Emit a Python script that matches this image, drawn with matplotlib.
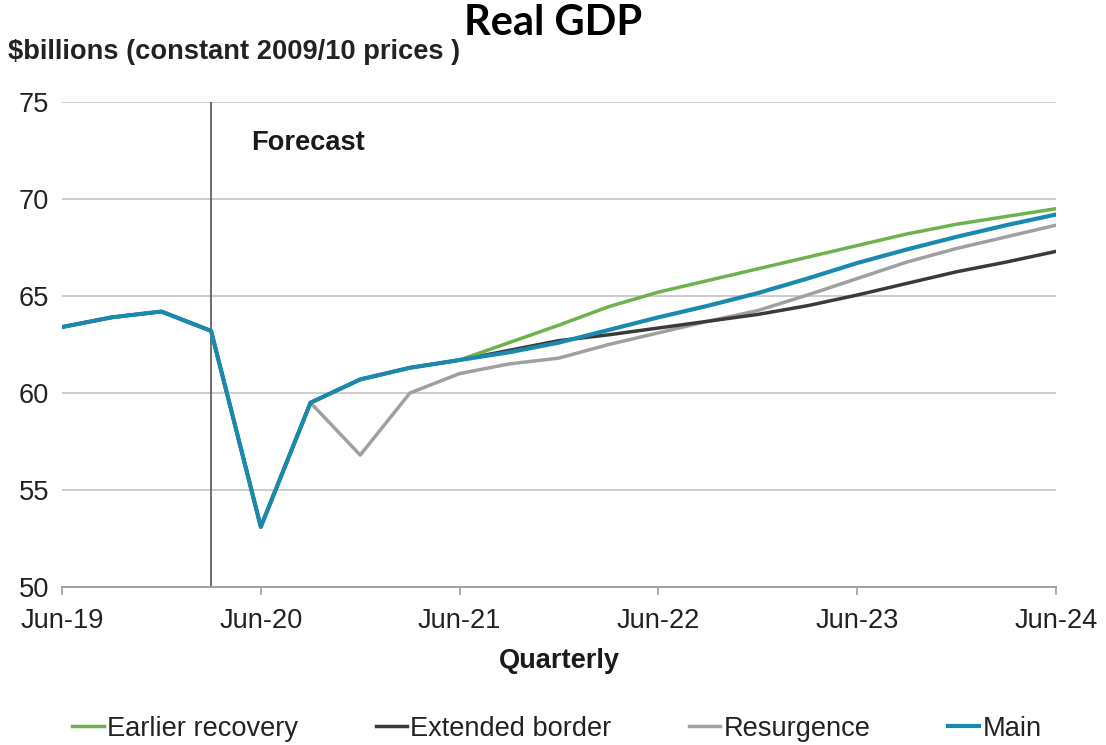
import matplotlib
matplotlib.use("Agg")
import matplotlib.pyplot as plt
import numpy as np

plt.rcParams["font.family"] = ["Liberation Sans", "DejaVu Sans"]

quarters = ["Jun-19", "Sep-19", "Dec-19", "Mar-20", "Jun-20", "Sep-20", "Dec-20",
            "Mar-21", "Jun-21", "Sep-21", "Dec-21", "Mar-22", "Jun-22", "Sep-22",
            "Dec-22", "Mar-23", "Jun-23", "Sep-23", "Dec-23", "Mar-24", "Jun-24"]

history = [63.4, 63.9, 64.2, 63.2, 53.1, 59.5, 60.7, 61.3, 61.7]

earlier_recovery = history + [62.6, 63.5, 64.45, 65.2, 65.8, 66.4, 67.0, 67.6, 68.2, 68.7, 69.1, 69.5]
extended_border = history + [62.2, 62.7, 63.0, 63.35, 63.7, 64.05, 64.5, 65.05, 65.65, 66.25, 66.75, 67.3]
resurgence = [63.4, 63.9, 64.2, 63.2, 53.1, 59.5, 56.8, 60.0, 61.0, 61.5, 61.8, 62.5,
              63.1, 63.7, 64.25, 65.05, 65.9, 66.75, 67.45, 68.05, 68.65]
main = history + [62.1, 62.6, 63.25, 63.9, 64.5, 65.15, 65.9, 66.7, 67.4, 68.05, 68.65, 69.2]

forecast_start = "Mar-20"

FS = 19.6
x = np.arange(len(quarters))

fig = plt.figure(figsize=(11.06, 7.45), dpi=100)
ax = fig.add_axes([62 / 1106, 1 - 587 / 745, (1056 - 62) / 1106, (587 - 102) / 745])

ax.plot(x, resurgence, color="#a0a0a0", lw=2.5, label="Resurgence", zorder=3)
ax.plot(x, extended_border, color="#3a3a3a", lw=2.5, label="Extended border", zorder=3)
ax.plot(x, earlier_recovery, color="#6db24c", lw=2.5, label="Earlier recovery", zorder=3)
ax.plot(x, main, color="#1b88ae", lw=3.0, label="Main", zorder=4)

fx = quarters.index(forecast_start)
ax.axvline(fx, ymin=0, ymax=1, color="#555555", lw=1.2, zorder=2)
ax.text(fx + 0.8, 72.9, "Forecast", fontsize=FS, fontweight="bold", va="center", ha="left",
        color="#1a1a1a")

ax.set_xlim(0, len(quarters) - 1)
ax.set_ylim(50, 75)
ax.set_yticks([50, 55, 60, 65, 70, 75])
ax.yaxis.grid(True, color="#cccccc", lw=1.4, zorder=1)
ax.set_axisbelow(True)

jun_idx = [i for i, q in enumerate(quarters) if q.startswith("Jun")]
ax.set_xticks(jun_idx)
ax.set_xticklabels([quarters[i] for i in jun_idx])

for s in ["left", "right", "top"]:
    ax.spines[s].set_visible(False)
ax.spines["bottom"].set_color("#a0a0a0")
ax.spines["bottom"].set_linewidth(1.4)

ax.tick_params(axis="y", length=0, pad=9, labelsize=FS, labelcolor="#222222")
ax.tick_params(axis="x", length=6, width=1.2, color="#a0a0a0", pad=9,
               labelsize=FS, labelcolor="#222222")

ax.set_xlabel("Quarterly", fontsize=FS, fontweight="bold", labelpad=10, color="#1a1a1a")

fig.text(8 / 1106, 1 - 52 / 745, "$billions (constant 2009/10 prices )",
         fontsize=FS, fontweight="bold", ha="left", va="center", color="#222222")
fig.text(553 / 1106, 1 - 23 / 745, "Real GDP", fontsize=30, fontweight="bold",
         family=["Lato", "DejaVu Sans"], ha="center", va="center", color="black")

handles, labels = ax.get_legend_handles_labels()
order = ["Earlier recovery", "Extended border", "Resurgence", "Main"]
hmap = dict(zip(labels, handles))
fig.legend([hmap[k] for k in order], order, loc="center", ncol=4,
           bbox_to_anchor=(557 / 1106, 1 - 729 / 745), frameon=False,
           fontsize=FS, handlelength=1.15, handletextpad=0.12, columnspacing=2.85,
           borderpad=0, labelcolor="#222222")

fig.savefig("out.png", dpi=100, facecolor="white")
